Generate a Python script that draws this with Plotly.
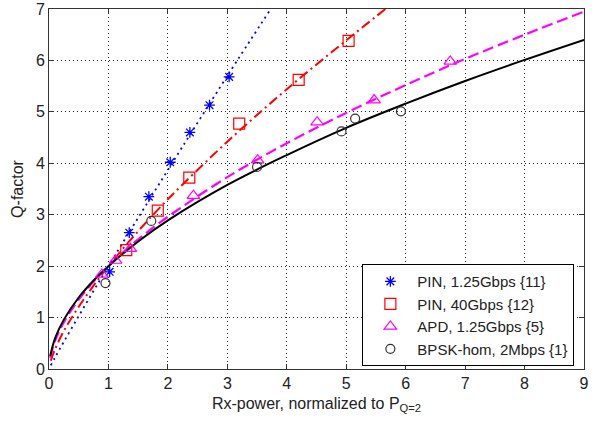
import plotly.graph_objects as go

pin125_x = [1.02, 1.35, 1.68, 2.04, 2.37, 2.70, 3.03]
pin125_y = [1.89, 2.65, 3.35, 4.02, 4.60, 5.13, 5.68]

pin40_x = [1.30, 1.83, 2.36, 3.20, 4.20, 5.04]
pin40_y = [2.31, 3.08, 3.72, 4.77, 5.62, 6.38]

apd_x = [0.89, 1.12, 1.37, 2.43, 3.51, 4.51, 5.47, 6.75]
apd_y = [1.84, 2.11, 2.34, 3.37, 4.06, 4.80, 5.23, 5.98]

bpsk_x = [0.95, 1.72, 3.50, 4.92, 5.15, 5.92]
bpsk_y = [1.67, 2.88, 3.93, 4.62, 4.87, 5.01]

# ---- theory curves ----
pin125_cx = [0.03, 0.1, 0.25, 0.5, 0.75, 1.0, 1.5, 2.0, 3.0, 3.73]
pin125_cy = [0.07, 0.22, 0.53, 1.03, 1.52, 2.00, 2.94, 3.87, 5.70, 7.00]

pin40_cx = [0.03, 0.1, 0.25, 0.5, 0.75, 1.0, 1.5, 2.0, 3.0, 4.0, 5.0, 5.66]
pin40_cy = [0.16, 0.38, 0.74, 1.21, 1.62, 2.00, 2.68, 3.30, 4.42, 5.44, 6.39, 7.00]

apd_cx = [0.02, 0.1, 0.25, 0.5, 0.75, 1.0, 1.5, 2.0, 3.0, 4.0, 5.0, 6.0, 7.0, 8.0, 9.0]
apd_cy = [0.22, 0.54, 0.91, 1.35, 1.70, 2.00, 2.52, 2.96, 3.73, 4.39, 4.98, 5.52, 6.03, 6.50, 6.95]

bpsk_cx = [0.02, 0.1, 0.25, 0.5, 0.75, 1.0, 1.5, 2.0, 3.0, 4.0, 5.0, 6.0, 7.0, 8.0, 9.0]
bpsk_cy = [0.25, 0.59, 0.96, 1.39, 1.72, 2.00, 2.48, 2.89, 3.58, 4.16, 4.69, 5.16, 5.60, 6.01, 6.40]

legend_names = ["PIN, 1.25Gbps {11}", "PIN, 40Gbps {12}", "APD, 1.25Gbps {5}", "BPSK-hom, 2Mbps {1}"]
x_ticks = [0, 1, 2, 3, 4, 5, 6, 7, 8, 9]
y_ticks = [0, 1, 2, 3, 4, 5, 6, 7]

BLUE = "#0000ff"
RED = "#ff0000"
MAG = "#ff00ff"
BLK = "#000000"
FONT = "Liberation Sans, Arial, sans-serif"
TXT = "#222222"

fig = go.Figure()

# curves (no legend)
fig.add_trace(go.Scatter(x=pin125_cx, y=pin125_cy, mode="lines",
                         line=dict(color=BLUE, width=1.8, dash="2px,4px", shape="spline"),
                         showlegend=False, hoverinfo="skip"))
fig.add_trace(go.Scatter(x=pin40_cx, y=pin40_cy, mode="lines",
                         line=dict(color=RED, width=2, dash="10px,4px,2px,4px", shape="spline"),
                         showlegend=False, hoverinfo="skip"))
fig.add_trace(go.Scatter(x=apd_cx, y=apd_cy, mode="lines",
                         line=dict(color=MAG, width=2.2, dash="11px,5px", shape="spline"),
                         showlegend=False, hoverinfo="skip"))
fig.add_trace(go.Scatter(x=bpsk_cx, y=bpsk_cy, mode="lines",
                         line=dict(color=BLK, width=2, shape="spline"),
                         showlegend=False, hoverinfo="skip"))

# markers (legend)
fig.add_trace(go.Scatter(x=pin125_x, y=pin125_y, mode="markers", name=legend_names[0],
                         marker=dict(symbol="asterisk-open", size=9, color=BLUE, line=dict(color=BLUE, width=1.3))))
fig.add_trace(go.Scatter(x=pin40_x, y=pin40_y, mode="markers", name=legend_names[1],
                         marker=dict(symbol="square-open", size=11, color=RED, line=dict(color=RED, width=1.2))))
fig.add_trace(go.Scatter(x=apd_x, y=apd_y, mode="markers", name=legend_names[2],
                         marker=dict(symbol="triangle-up-open", size=11, color=MAG, line=dict(color=MAG, width=1.2))))
fig.add_trace(go.Scatter(x=bpsk_x, y=bpsk_y, mode="markers", name=legend_names[3],
                         marker=dict(symbol="circle-open", size=9, color="#333333", line=dict(color="#333333", width=1.2))))

axis_common = dict(
    showline=True, linecolor="#333333", linewidth=1, mirror="ticks",
    ticks="inside", ticklen=5, tickcolor="#333333",
    showgrid=True, gridcolor="#222222", gridwidth=1, griddash="1px,3px",
    zeroline=False, automargin=False,
    tickfont=dict(family=FONT, size=16, color=TXT),
)

fig.update_xaxes(range=[0, 9], tickvals=x_ticks, ticktext=[str(v) for v in x_ticks],
                 title=dict(text="Rx-power, normalized to P<sub>Q=2</sub>", standoff=6,
                            font=dict(family=FONT, size=16, color=TXT)),
                 **axis_common)
fig.update_yaxes(range=[0, 7], tickvals=y_ticks, ticktext=[str(v) for v in y_ticks],
                 title=dict(text="Q-factor", standoff=8,
                            font=dict(family=FONT, size=16, color=TXT)),
                 **axis_common)

fig.update_layout(
    width=607, height=422,
    margin=dict(l=49, r=23, t=9, b=53),
    paper_bgcolor="white", plot_bgcolor="white",
    font=dict(family=FONT, size=16, color=TXT),
    legend=dict(x=0.982, y=0.008, xanchor="right", yanchor="bottom",
                bgcolor="white", bordercolor="black", borderwidth=1,
                font=dict(family=FONT, size=15, color=TXT),
                tracegroupgap=0, itemwidth=44),
)

fig.write_html("out.html", config={"displayModeBar": False},
               post_script="document.body.style.margin='0px';")
